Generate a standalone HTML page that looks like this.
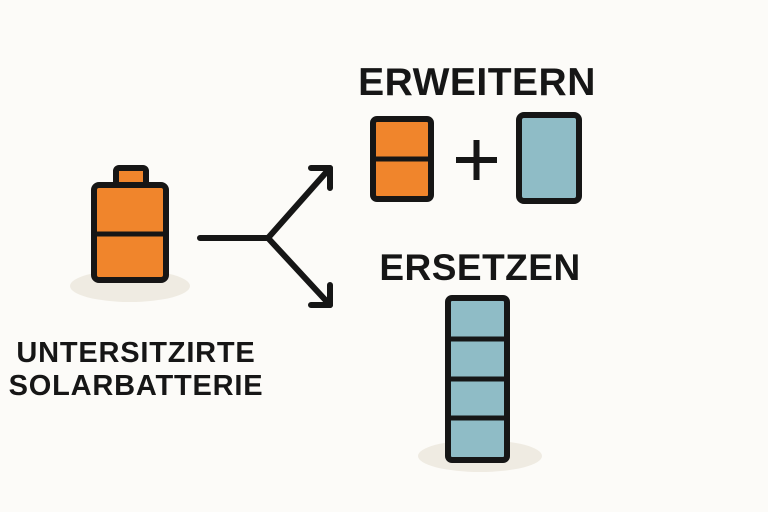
<!DOCTYPE html>
<html><head><style>
body{margin:0;background:#fcfbf8;}
svg{display:block}
text{font-family:"Liberation Sans",sans-serif;font-weight:bold;fill:#161616}
</style></head><body>
<svg width="768" height="512" viewBox="0 0 768 512">
<rect width="768" height="512" fill="#fcfbf8"/>
<ellipse cx="130" cy="286" rx="60" ry="16" fill="#efebe2"/>
<ellipse cx="480" cy="456" rx="62" ry="16" fill="#efebe2"/>
<rect x="116" y="168" width="30" height="20" rx="3" fill="#f0852c" stroke="#161616" stroke-width="6"/>
<rect x="94" y="185" width="72" height="95" rx="5" fill="#f0852c" stroke="#161616" stroke-width="6"/>
<line x1="94" y1="234" x2="166" y2="234" stroke="#161616" stroke-width="5"/>
<g stroke="#161616" stroke-width="6" fill="none" stroke-linecap="round" stroke-linejoin="round">
<path d="M200 238 H268 L330 168 M268 238 L330 305"/>
<path d="M311 168 H330 V188"/>
<path d="M330 285 V305 H311"/>
</g>
<text x="477" y="95" font-size="39" text-anchor="middle" letter-spacing="0.5">ERWEITERN</text>
<rect x="373" y="119" width="58" height="80" rx="4" fill="#f0852c" stroke="#161616" stroke-width="6"/>
<line x1="373" y1="159" x2="431" y2="159" stroke="#161616" stroke-width="5"/>
<path d="M456 160 H497 M476.5 140 V180" stroke="#161616" stroke-width="6"/>
<rect x="519" y="115" width="60" height="86" rx="5" fill="#8fbcc6" stroke="#161616" stroke-width="6"/>
<text x="480" y="280" font-size="37" text-anchor="middle" letter-spacing="0.5">ERSETZEN</text>
<rect x="448" y="298" width="59" height="162" rx="4" fill="#8fbcc6" stroke="#161616" stroke-width="6"/>
<g stroke="#161616" stroke-width="5"><line x1="448" y1="339" x2="507" y2="339"/><line x1="448" y1="379" x2="507" y2="379"/><line x1="448" y1="418" x2="507" y2="418"/></g>
<text x="136" y="362" font-size="29" text-anchor="middle" letter-spacing="0.8">UNTERSITZIRTE</text>
<text x="136" y="395" font-size="29" text-anchor="middle" letter-spacing="0.8">SOLARBATTERIE</text>
</svg>
</body></html>
